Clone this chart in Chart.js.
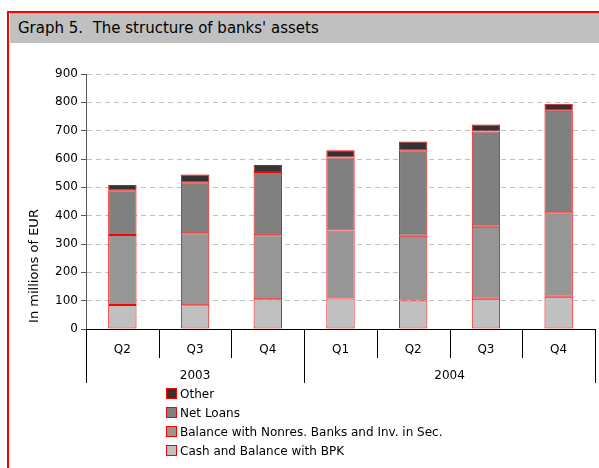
<!DOCTYPE html>
<html lang="en">
<head>
<meta charset="UTF-8">
<title>The structure of banks' assets</title>
<script src="https://cdn.jsdelivr.net/npm/chart.js"></script>
<style>
  body { margin: 0; width: 599px; height: 468px; overflow: hidden; background: #fff; position: relative; font-family: "DejaVu Sans", sans-serif; }
  #frame { position: absolute; left: 7px; top: 11px; width: 640px; height: 520px; border: 2px solid #f00; box-sizing: border-box; }
  #title { position: absolute; left: 10px; top: 13px; width: 600px; height: 30px; background: #c0c0c0; font-size: 15px; line-height: 30px; padding-left: 8px; box-sizing: border-box; color: #000; }
  #chart { position: absolute; left: 0; top: 0; }
  #legend { position: absolute; left: 166px; top: 385px; font-size: 12px; color: #000; }
  #legend div { height: 19px; line-height: 19px; white-space: nowrap; }
  #legend span { display: inline-block; width: 9px; height: 9px; border: 1px solid #f00; vertical-align: -1px; margin-right: 3px; }
</style>
</head>
<body>
<div id="frame"></div>
<div id="title">Graph 5.&nbsp; The structure of banks' assets</div>
<canvas id="chart" width="599" height="468"></canvas>
<div id="legend"></div>
<script>
const quarters = ["Q2", "Q3", "Q4", "Q1", "Q2", "Q3", "Q4"]
const years = ["2003", "2003", "2003", "2004", "2004", "2004", "2004"]
const yTicks = [0, 100, 200, 300, 400, 500, 600, 700, 800, 900]
const yTitle = "In millions of EUR"

// values in millions of EUR
const cash = [85, 84, 105, 108, 101, 107, 114]
const nonresBanks = [247, 254, 226, 240, 228, 254, 298]
const netLoans = [158, 180, 223, 257, 302, 336, 358]
const other = [18, 27, 25, 26, 31, 25, 25]

const seriesNames = ["Cash and Balance with BPK", "Balance with Nonres. Banks and Inv. in Sec.", "Net Loans", "Other"]
const seriesColors = ["#c0c0c0", "#969696", "#808080", "#333333"]
const seriesData = [cash, nonresBanks, netLoans, other]

const FONT = '"DejaVu Sans", sans-serif'

// quarter labels, year groups, dividers and the y title
const axisLabels = {
  id: "axisLabels",
  afterDraw(chart) {
    const { ctx, chartArea: a, scales: { x } } = chart
    const w = (a.right - a.left) / quarters.length
    ctx.save()
    ctx.fillStyle = "#000"
    ctx.strokeStyle = "#000"
    ctx.lineWidth = 1
    ctx.textAlign = "center"
    ctx.textBaseline = "middle"
    ctx.font = "12px " + FONT
    quarters.forEach((q, i) => ctx.fillText(q, x.getPixelForValue(i), a.bottom + 21))

    for (let i = 0; i <= quarters.length; i++) {
      const px = Math.round(a.left + i * w) + 0.5
      const long = i === 0 || i === quarters.length || years[i] !== years[i - 1]
      ctx.beginPath()
      ctx.moveTo(px, a.bottom)
      ctx.lineTo(px, a.bottom + (long ? 54 : 29))
      ctx.stroke()
    }

    let start = 0
    for (let i = 1; i <= years.length; i++) {
      if (i === years.length || years[i] !== years[start]) {
        const mid = (a.left + start * w + a.left + i * w) / 2
        ctx.fillText(years[start], mid, a.bottom + 47)
        start = i
      }
    }

    ctx.translate(35, 266)
    ctx.rotate(-Math.PI / 2)
    ctx.font = "13px " + FONT
    ctx.fillText(yTitle, 0, 0)
    ctx.restore()
  }
}

new Chart(document.getElementById("chart"), {
  type: "bar",
  data: {
    labels: quarters,
    datasets: seriesData.map((d, i) => ({
      label: seriesNames[i],
      data: d,
      backgroundColor: seriesColors[i],
      borderColor: "#ff0000",
      borderWidth: 1,
      borderSkipped: false,
      categoryPercentage: 1,
      barPercentage: 0.39,
    })),
  },
  options: {
    responsive: false,
    animation: false,
    layout: { padding: { left: 40, right: 4, top: 74, bottom: 85 } },
    plugins: { legend: { display: false }, tooltip: { enabled: false } },
    scales: {
      x: {
        stacked: true,
        grid: { display: false },
        border: { display: true, color: "#000", width: 1 },
        ticks: { display: false },
        afterFit(scale) { scale.height = 54 },
      },
      y: {
        stacked: true,
        min: 0,
        max: 900,
        afterBuildTicks(scale) { scale.ticks = yTicks.map((v) => ({ value: v })) },
        grid: {
          color: "#c0c0c0",
          tickColor: "#555",
          tickBorderDash: [],
          tickLength: 5,
        },
        border: { display: true, color: "#555", width: 1, dash: [5, 4] },
        ticks: { color: "#000", font: { size: 12, family: FONT }, padding: 3 },
        afterFit(scale) { scale.width = 46 },
      },
    },
  },
  plugins: [axisLabels],
})

const legend = document.getElementById("legend")
for (let i = seriesNames.length - 1; i >= 0; i--) {
  const row = document.createElement("div")
  const box = document.createElement("span")
  box.style.background = seriesColors[i]
  row.appendChild(box)
  row.appendChild(document.createTextNode(seriesNames[i]))
  legend.appendChild(row)
}
</script>
</body>
</html>
